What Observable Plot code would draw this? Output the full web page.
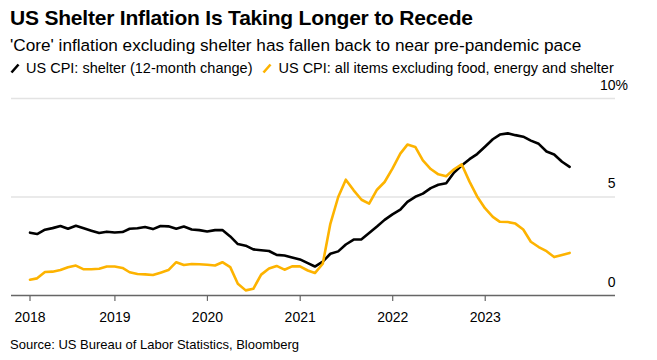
<!DOCTYPE html>
<html>
<head>
<meta charset="utf-8">
<script src="https://cdn.jsdelivr.net/npm/d3@7"></script>
<script src="https://cdn.jsdelivr.net/npm/@observablehq/plot@0.6"></script>
<style>
  html, body { margin: 0; padding: 0; background: #fff; }
  body { width: 657px; height: 360px; position: relative; overflow: hidden; font-family: "Liberation Sans", Arial, sans-serif; color: #000; }
  .t { position: absolute; left: 10px; white-space: nowrap; }
  #title { top: 4px; font-size: 21px; line-height: 28px; font-weight: bold; letter-spacing: -0.2px; }
  #subtitle { top: 34px; font-size: 17.2px; line-height: 22px; }
  #legend { top: 58px; font-size: 14.5px; line-height: 20px; display: flex; align-items: center; }
  #legend .item { display: flex; align-items: center; margin-right: 10px; }
  #legend svg { margin-right: 6px; }
  #chart { position: absolute; left: 0; top: 78px; }
  #caption { top: 335px; font-size: 13px; line-height: 20px; }
</style>
</head>
<body>
<div id="title" class="t">US Shelter Inflation Is Taking Longer to Recede</div>
<div id="subtitle" class="t">'Core' inflation excluding shelter has fallen back to near pre-pandemic pace</div>
<div id="legend" class="t"></div>
<div id="chart"></div>
<div id="caption" class="t">Source: US Bureau of Labor Statistics, Bloomberg</div>
<script>
// Monthly data, Jan 2018 – Nov 2023 (12-month % change)
const startMonth = "2018-01";
const monthCount = 71;
const shelter = [
  3.19, 3.12, 3.34, 3.42, 3.53, 3.39, 3.54, 3.41, 3.29, 3.17, 3.24, 3.20,
  3.22, 3.39, 3.41, 3.48, 3.37, 3.53, 3.51, 3.39, 3.50, 3.35, 3.32, 3.25,
  3.32, 3.32, 3.00, 2.61, 2.53, 2.34, 2.30, 2.26, 2.06, 2.03, 1.93, 1.83,
  1.64, 1.47, 1.72, 2.12, 2.24, 2.59, 2.84, 2.85, 3.17, 3.50, 3.84, 4.12,
  4.36, 4.75, 5.01, 5.17, 5.45, 5.62, 5.70, 6.24, 6.60, 6.92, 7.18, 7.55,
  7.93, 8.17, 8.23, 8.14, 8.06, 7.86, 7.70, 7.31, 7.16, 6.79, 6.53
];
const coreExShelter = [
  0.80, 0.87, 1.19, 1.21, 1.29, 1.43, 1.52, 1.33, 1.33, 1.36, 1.47, 1.47,
  1.40, 1.18, 1.09, 1.07, 1.04, 1.16, 1.29, 1.69, 1.55, 1.60, 1.59, 1.56,
  1.52, 1.69, 1.44, 0.60, 0.26, 0.34, 1.06, 1.37, 1.50, 1.31, 1.48, 1.48,
  1.27, 1.14, 1.61, 3.64, 5.00, 5.88, 5.34, 4.86, 4.66, 5.37, 5.76, 6.44,
  7.20, 7.66, 7.54, 6.86, 6.42, 6.15, 6.05, 6.41, 6.66, 5.78, 5.03, 4.43,
  3.99, 3.74, 3.73, 3.65, 3.35, 2.73, 2.46, 2.25, 1.95, 2.06, 2.16
];
const seriesNames = ["US CPI: shelter (12-month change)", "US CPI: all items excluding food, energy and shelter"];
const seriesColors = ["#000000", "#fdb300"];
const xTickDates = ["2018-01-31", "2019-01-01", "2020-01-01", "2021-01-01", "2022-01-01", "2023-01-01"];
const xTickLabels = ["2018", "2019", "2020", "2021", "2022", "2023"];
const yTicks = [0, 5, 10];
const yTickLabels = ["0", "5", "10"];

// month-end dates
const firstMonth = new Date(startMonth + "-01T00:00:00Z");
const dates = d3.range(monthCount).map(i => new Date(Date.UTC(firstMonth.getUTCFullYear(), firstMonth.getUTCMonth() + i + 1, 0)));
const rows = [];
dates.forEach((d, i) => {
  rows.push({date: d, value: shelter[i], series: seriesNames[0]});
  rows.push({date: d, value: coreExShelter[i], series: seriesNames[1]});
});
const ticks = xTickDates.map((s, i) => ({date: new Date(s + "T00:00:00Z"), label: xTickLabels[i]}));

// legend
const legend = document.getElementById("legend");
seriesNames.forEach((name, i) => {
  const item = document.createElement("span");
  item.className = "item";
  item.innerHTML = `<svg width="10" height="11" viewBox="0 0 10 11"><line x1="1.5" y1="9.5" x2="8.5" y2="1.5" stroke="${seriesColors[i]}" stroke-width="2.6" stroke-linecap="butt"/></svg><span>${name}</span>`;
  legend.appendChild(item);
});

const plot = Plot.plot({
  width: 657,
  height: 252,
  marginLeft: 11,
  marginRight: 42,
  marginTop: 20,
  marginBottom: 35,
  style: {fontFamily: "'Liberation Sans', Arial, sans-serif", fontSize: "14px", color: "#000", background: "#fff"},
  x: {type: "utc", domain: [new Date("2017-11-19T00:00:00Z"), new Date("2024-05-29T00:00:00Z")], axis: null},
  y: {domain: [0, 10], axis: null},
  color: {domain: seriesNames, range: seriesColors},
  marks: [
    Plot.ruleY(yTicks.filter(v => v > 0), {stroke: "#e3e3e3", strokeWidth: 1.5}),
    Plot.ruleX(ticks, {x: "date", y1: 0, y2: -0.3, stroke: "#666", strokeWidth: 1.2}),
    Plot.ruleY([0], {stroke: "#666", strokeWidth: 1.5}),
    Plot.text(ticks, {x: "date", text: "label", frameAnchor: "bottom", dy: 26, fontSize: 14, fill: "#000"}),
    Plot.text(yTicks, {y: d => d, text: (d, i) => yTickLabels[i], frameAnchor: "right", textAnchor: "end", dy: -13, fontSize: 14, fill: "#000"}),
    Plot.text([10], {y: d => d, text: () => "%", frameAnchor: "right", textAnchor: "start", dy: -13, fontSize: 14, fill: "#000"}),
    Plot.line(rows, {x: "date", y: "value", z: "series", stroke: "series", strokeWidth: 2.6, strokeLinejoin: "round"})
  ]
});
document.getElementById("chart").appendChild(plot);
</script>
</body>
</html>
